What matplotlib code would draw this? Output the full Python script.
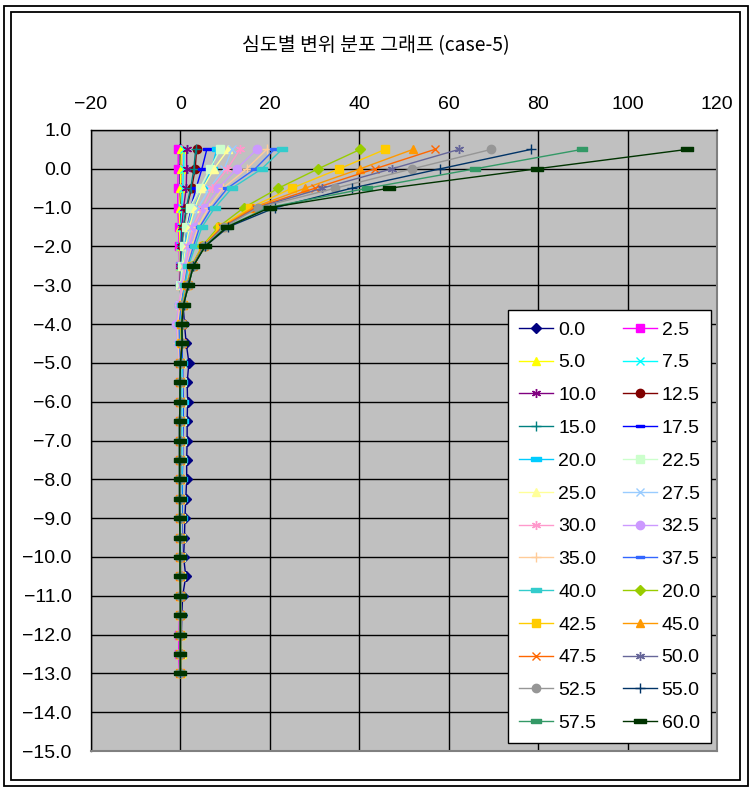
import matplotlib
matplotlib.use("Agg")
import matplotlib.pyplot as plt
from matplotlib.patches import Rectangle
from matplotlib.ticker import FuncFormatter, MultipleLocator

plt.rcParams['font.family'] = ['Liberation Sans', 'DejaVu Sans']

title = "심도별 변위 분포 그래프 (case-5)"

depth = [0.5, 0.0, -0.5, -1.0, -1.5, -2.0, -2.5, -3.0, -3.5, -4.0, -4.5, -5.0, -5.5, -6.0,
         -6.5, -7.0, -7.5, -8.0, -8.5, -9.0, -9.5, -10.0, -10.5, -11.0, -11.5, -12.0, -12.5, -13.0]

labels = ["0.0", "2.5", "5.0", "7.5", "10.0", "12.5", "15.0", "17.5", "20.0", "22.5", "25.0",
          "27.5", "30.0", "32.5", "35.0", "37.5", "40.0", "20.0", "42.5", "45.0", "47.5", "50.0",
          "52.5", "55.0", "57.5", "60.0"]

s00 = [0.0, 0.0, -0.1, -0.1, -0.1, 0.0, 0.1, 0.3, 0.6, 0.9, 1.3, 1.9, 1.5, 1.6, 1.5, 1.5, 1.4, 1.4, 1.2, 1.0, 0.9, 0.7, 1.2, 0.5, 0.3, 0.2, 0.1, 0.0]
s025 = [-0.5, -0.5, -0.6, -0.6, -0.4, -0.3, -0.2, -0.2, -0.1, -0.1, 0.0, 0.0, -0.1, -0.1, -0.1, 0.0, 0.0, 0.0, 0.0, 0.0, -0.1, -0.1, -0.1, 0.0, -0.2, -0.3, -0.4, -0.2]
s050 = [0.2, 0.1, 0.0, -0.2, -0.2, -0.1, -0.1, 0.0, 0.0, 0.1, 0.1, 0.2, 0.2, 0.2, 0.2, 0.1, 0.1, 0.1, 0.1, 0.0, 0.0, 0.0, 0.0, 0.0, 0.0, 0.1, 0.3, 0.1]
s075 = [0.8, 0.7, 0.5, 0.3, 0.1, 0.0, 0.0, 0.0, 0.1, 0.1, 0.2, 0.3, 0.3, 0.3, 0.3, 0.2, 0.2, 0.2, 0.1, 0.1, 0.1, 0.0, 0.0, 0.0, 0.0, 0.0, 0.0, 0.0]
s100 = [1.4, 1.4, 1.3, 0.7, 0.3, 0.1, 0.0, -0.1, -0.1, 0.0, 0.1, 0.3, 0.3, 0.4, 0.4, 0.3, 0.3, 0.3, 0.2, 0.2, 0.1, 0.1, 0.1, 0.0, 0.0, 0.0, 0.0, 0.0]
s125 = [3.6, 3.3, 2.5, 1.4, 0.7, 0.3, 0.1, 0.0, -0.1, 0.0, 0.1, 0.4, 0.4, 0.5, 0.5, 0.4, 0.4, 0.4, 0.3, 0.3, 0.2, 0.2, 0.1, 0.1, 0.0, 0.0, 0.0, 0.0]
s150 = [3.4, 3.0, 2.3, 1.3, 0.6, 0.3, 0.1, 0.0, -0.1, 0.0, 0.1, 0.3, 0.4, 0.4, 0.4, 0.4, 0.3, 0.3, 0.3, 0.2, 0.2, 0.1, 0.1, 0.1, 0.0, 0.0, 0.0, 0.0]
s175 = [5.9, 4.8, 3.5, 2.3, 1.3, 0.7, 0.3, 0.1, 0.0, 0.0, 0.2, 0.5, 0.5, 0.6, 0.6, 0.5, 0.5, 0.4, 0.4, 0.3, 0.3, 0.2, 0.2, 0.1, 0.1, 0.0, 0.0, 0.0]
s200 = [8.1, 7.0, 5.0, 3.0, 1.8, 1.0, 0.5, 0.2, 0.0, 0.0, 0.1, 0.4, 0.4, 0.5, 0.5, 0.4, 0.4, 0.4, 0.3, 0.3, 0.2, 0.2, 0.1, 0.1, 0.1, 0.0, 0.0, 0.0]
s225 = [8.9, 6.6, 4.4, 2.1, 1.2, 0.7, 0.3, 0.0, -0.2, -0.2, 0.0, 0.2, 0.3, 0.3, 0.3, 0.3, 0.3, 0.2, 0.2, 0.2, 0.1, 0.1, 0.1, 0.0, 0.0, 0.0, 0.0, 0.0]
s250 = [10.7, 7.5, 5.0, 3.2, 2.0, 1.2, 0.6, 0.2, -0.2, -0.3, -0.1, 0.1, 0.2, 0.2, 0.2, 0.2, 0.2, 0.2, 0.1, 0.1, 0.1, 0.0, 0.0, 0.0, 0.0, 0.0, 0.1, 0.0]
s275 = [11.5, 9.8, 6.5, 4.0, 2.4, 1.5, 0.8, 0.2, -0.3, -0.5, -0.3, 0.0, 0.1, 0.1, 0.1, 0.1, 0.1, 0.1, 0.1, 0.0, 0.0, 0.0, 0.0, 0.0, 0.0, 0.0, 0.0, 0.0]
s300 = [13.3, 10.5, 7.0, 4.9, 2.8, 1.8, 1.0, 0.3, -0.4, -0.8, -0.5, -0.2, 0.0, 0.0, 0.0, 0.0, 0.0, 0.0, 0.0, 0.0, 0.0, 0.0, 0.0, 0.0, 0.0, 0.0, 0.0, 0.0]
s325 = [17.1, 12.6, 8.5, 5.5, 3.3, 2.2, 1.2, 0.5, -0.3, -0.9, -0.6, -0.3, -0.1, 0.0, 0.0, 0.0, 0.0, 0.0, 0.0, 0.0, 0.0, 0.0, 0.0, 0.0, 0.0, 0.0, 0.0, 0.0]
s350 = [19.3, 14.8, 9.5, 6.3, 3.9, 2.6, 1.4, 0.7, -0.1, -0.6, -0.5, -0.2, 0.0, 0.0, 0.1, 0.1, 0.1, 0.0, 0.0, 0.0, 0.0, 0.0, 0.0, 0.0, 0.0, 0.0, 0.0, 0.0]
s375 = [21.0, 16.7, 10.5, 7.0, 4.3, 2.9, 1.6, 0.9, 0.2, -0.3, -0.2, 0.0, 0.1, 0.1, 0.1, 0.1, 0.1, 0.1, 0.0, 0.0, 0.0, 0.0, 0.0, 0.0, 0.0, 0.0, 0.0, 0.0]
s400 = [22.7, 18.2, 11.5, 7.7, 4.8, 3.3, 1.8, 1.0, 0.4, 0.0, 0.0, 0.1, 0.1, 0.1, 0.1, 0.1, 0.1, 0.1, 0.0, 0.0, 0.0, 0.0, 0.0, 0.0, 0.0, 0.0, 0.0, 0.0]
s200b = [40.2, 30.8, 21.9, 14.2, 8.5, 4.8, 2.5, 1.4, 0.5, 0.2, 0.2, 0.0, -0.1, -0.1, -0.1, -0.1, -0.1, -0.1, -0.1, -0.1, -0.1, 0.0, 0.0, 0.0, 0.0, 0.0, 0.0, 0.0]
s425 = [45.8, 35.5, 24.9, 15.6, 8.9, 5.0, 2.6, 1.5, 0.5, 0.2, 0.2, 0.0, -0.1, -0.1, -0.1, -0.1, -0.1, -0.1, -0.1, -0.1, -0.1, 0.0, 0.0, 0.0, 0.0, 0.0, 0.0, 0.0]
s450 = [52.0, 40.2, 27.9, 16.2, 9.2, 5.1, 2.6, 1.5, 0.6, 0.2, 0.3, 0.0, -0.1, -0.1, -0.1, -0.1, -0.1, -0.1, -0.1, -0.1, -0.1, 0.0, 0.0, 0.0, 0.0, 0.0, 0.0, 0.0]
s475 = [56.9, 43.5, 30.1, 16.8, 9.4, 5.2, 2.7, 1.6, 0.6, 0.3, 0.3, 0.0, -0.1, -0.1, -0.1, -0.2, -0.1, -0.1, -0.1, -0.1, -0.1, 0.0, 0.0, 0.0, 0.0, 0.0, 0.0, 0.0]
s500 = [62.3, 47.3, 31.7, 17.2, 9.6, 5.2, 2.7, 1.6, 0.6, 0.3, 0.3, 0.0, -0.1, -0.1, -0.2, -0.2, -0.2, -0.1, -0.1, -0.1, -0.1, 0.0, 0.0, 0.0, 0.0, 0.0, 0.0, 0.0]
s525 = [69.5, 51.9, 34.6, 17.4, 9.8, 5.3, 2.8, 1.7, 0.6, 0.3, 0.3, 0.0, -0.1, -0.1, -0.2, -0.2, -0.2, -0.2, -0.1, -0.1, -0.1, 0.0, 0.0, 0.0, 0.0, 0.0, 0.0, 0.0]
s550 = [78.4, 58.1, 38.3, 21.2, 10.7, 5.5, 2.9, 1.8, 0.7, 0.3, 0.4, 0.0, -0.1, -0.1, -0.2, -0.2, -0.2, -0.2, -0.2, -0.1, -0.1, -0.1, 0.0, 0.0, 0.0, 0.0, 0.0, 0.0]
s575 = [89.8, 65.9, 41.8, 19.5, 10.2, 5.4, 2.9, 1.8, 0.7, 0.3, 0.4, 0.0, -0.1, -0.1, -0.2, -0.2, -0.2, -0.2, -0.2, -0.2, -0.1, -0.1, 0.0, 0.0, 0.0, 0.0, 0.0, 0.0]
s600 = [113.3, 79.7, 46.7, 20.0, 10.4, 5.5, 2.9, 1.8, 0.7, 0.3, 0.4, 0.0, -0.1, -0.1, -0.2, -0.2, -0.2, -0.2, -0.2, -0.2, -0.1, -0.1, -0.1, 0.0, 0.0, 0.0, 0.0, 0.0]

series = [s00, s025, s050, s075, s100, s125, s150, s175, s200, s225, s250, s275, s300,
          s325, s350, s375, s400, s200b, s425, s450, s475, s500, s525, s550, s575, s600]

colors = ["#000080", "#FF00FF", "#FFFF00", "#00FFFF", "#800080", "#800000", "#008080",
          "#0000FF", "#00CCFF", "#CCFFCC", "#FFFF99", "#99CCFF", "#FF99CC", "#CC99FF",
          "#FFCC99", "#3366FF", "#33CCCC", "#99CC00", "#FFCC00", "#FF9900", "#FF6600",
          "#666699", "#969696", "#003366", "#339966", "#003300"]

DASH = [(-1, -0.38), (1, -0.38), (1, 0.38), (-1, 0.38), (-1, -0.38)]
AST = (6, 2, 0)
markers = ["D", "s", "^", "x", AST, "o", "+", DASH, DASH, "s", "^", "x", AST, "o",
           "+", DASH, DASH, "D", "s", "^", "x", AST, "o", "+", DASH, DASH]
msizes = [5.5, 6, 6, 6, 6.5, 6, 6.5, 5.5, 7.5, 6, 6, 6, 6.5, 6,
          6.5, 5.5, 7.5, 5.5, 6, 6, 6, 6.5, 6, 6.5, 6.5, 8.5]

W, H = 752, 790
fig = plt.figure(figsize=(W / 100, H / 100), dpi=100)
fig.patch.set_facecolor("white")

# outer double frame
fig.patches.append(Rectangle((4 / W, 1 - 786 / H), 744 / W, 780 / H, transform=fig.transFigure,
                             fill=False, edgecolor="black", linewidth=1.3, zorder=0))
fig.patches.append(Rectangle((11 / W, 1 - 780 / H), 729 / W, 768 / H, transform=fig.transFigure,
                             fill=False, edgecolor="black", linewidth=1.3, zorder=0))

L, R, T, B = 91, 717, 130, 751
ax = fig.add_axes([L / W, 1 - B / H, (R - L) / W, (B - T) / H])
ax.set_facecolor("#C0C0C0")

handles = []
for ys, c, m, ms, lab in zip(series, colors, markers, msizes, labels):
    h, = ax.plot(ys, depth, color=c, marker=m, markersize=ms, markerfacecolor=c,
                 markeredgecolor=c, markeredgewidth=1.0, linewidth=1.0, label=lab)
    handles.append(h)

ax.set_xlim(-20, 120)
ax.set_ylim(-15, 1)
ax.xaxis.set_major_locator(MultipleLocator(20))
ax.yaxis.set_major_locator(MultipleLocator(1))
ax.xaxis.tick_top()
ax.xaxis.set_major_formatter(FuncFormatter(lambda v, p: f"{v:.0f}".replace("-", "\u2212")))
ax.yaxis.set_major_formatter(FuncFormatter(lambda v, p: f"{v:.1f}".replace("-", "\u2212")))
ax.tick_params(axis="x", length=0, pad=12, labelsize=14)
ax.tick_params(axis="y", length=0, pad=14, labelsize=14)
ax.grid(True, color="black", linewidth=1.0)
ax.set_axisbelow(True)
for side in ["left", "top"]:
    ax.spines[side].set_color("black")
    ax.spines[side].set_linewidth(1.0)
for side in ["right", "bottom"]:
    ax.spines[side].set_color("#808080")
    ax.spines[side].set_linewidth(1.5)

fig.text(376 / W, 1 - 46 / H, title, ha="center", va="center", fontsize=14,
         family=["Noto Sans CJK KR", "DejaVu Sans"])

# legend reads row by row: reorder for matplotlib's column-first filling
order = list(range(0, len(handles), 2)) + list(range(1, len(handles), 2))
leg = ax.legend([handles[i] for i in order], [labels[i] for i in order],
                ncol=2, loc="upper left", bbox_to_anchor=(508 / W, 1 - 310 / H),
                bbox_transform=fig.transFigure, borderaxespad=0, fontsize=14,
                frameon=True, fancybox=False, edgecolor="black", facecolor="white",
                framealpha=1, handlelength=1.75, handletextpad=0.26, columnspacing=1.35,
                labelspacing=0.78, borderpad=0.57, numpoints=1)
leg.get_frame().set_linewidth(1.0)

fig.savefig("out.png", dpi=100, facecolor="white")
